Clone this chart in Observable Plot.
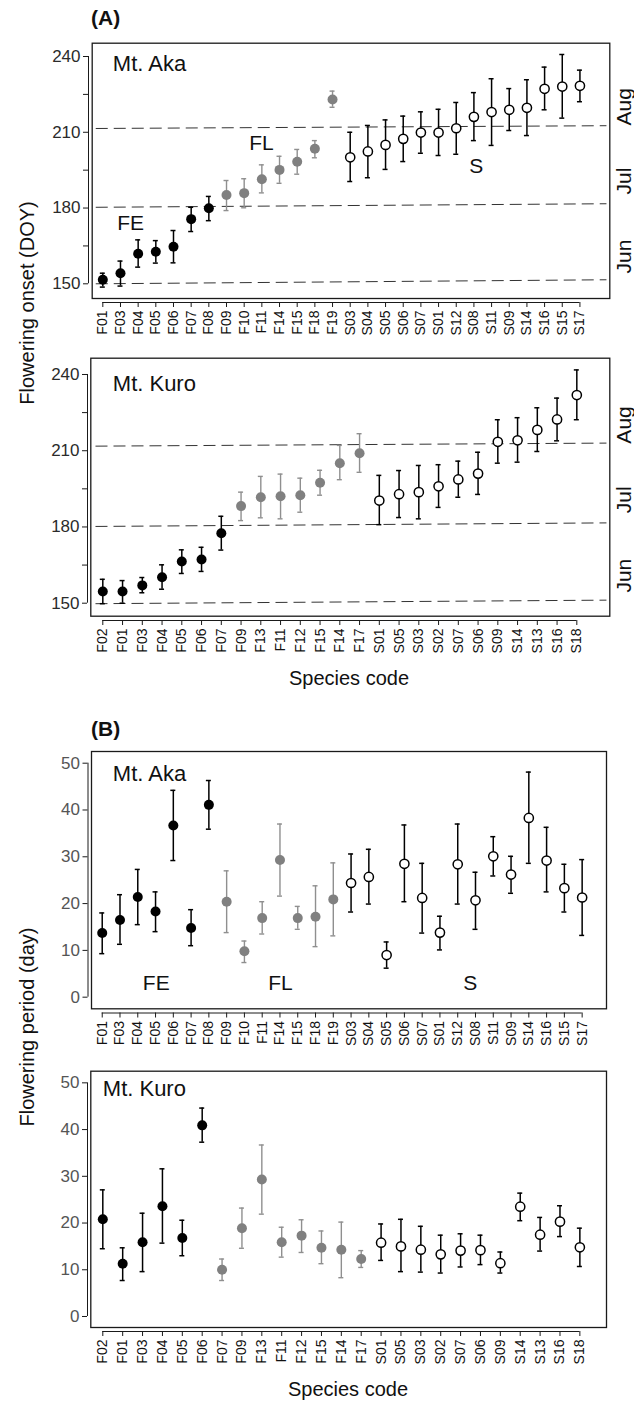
<!DOCTYPE html>
<html><head><meta charset="utf-8">
<script src="https://cdn.jsdelivr.net/npm/d3@7"></script>
<script src="https://cdn.jsdelivr.net/npm/@observablehq/plot@0.6"></script>
<style>
html,body{margin:0;padding:0;background:#fff;}
#root{position:relative;width:634px;height:1409px;background:#fff;font-family:"Liberation Sans",Arial,Helvetica,sans-serif;color:#111;overflow:hidden}
.plot{position:absolute;left:0;}
.lbl{position:absolute;white-space:nowrap;line-height:1;}
</style></head><body><div id="root"></div>
<script>
// ---------- DATA ----------
const codesAka = ["F01","F03","F04","F05","F06","F07","F08","F09","F10","F11","F14","F15","F18","F19","S03","S04","S05","S06","S07","S01","S12","S08","S11","S09","S14","S16","S15","S17"];
const groupAka = ["FE","FE","FE","FE","FE","FE","FE","FL","FL","FL","FL","FL","FL","FL","S","S","S","S","S","S","S","S","S","S","S","S","S","S"];
const codesKuro = ["F02","F01","F03","F04","F05","F06","F07","F09","F13","F11","F12","F15","F14","F17","S01","S05","S03","S02","S07","S06","S09","S14","S13","S16","S18"];
const groupKuroOnset = ["FE","FE","FE","FE","FE","FE","FE","FL","FL","FL","FL","FL","FL","FL","S","S","S","S","S","S","S","S","S","S","S"];
const groupKuroPeriod = ["FE","FE","FE","FE","FE","FE","FL","FL","FL","FL","FL","FL","FL","FL","S","S","S","S","S","S","S","S","S","S","S"];

// (A) flowering onset, DOY
const onsetAkaMean = [151.6,154.2,161.9,162.7,164.7,175.6,179.9,185.2,185.9,191.4,195.1,198.3,203.5,223.0,200.1,202.4,205.0,207.4,209.9,209.9,211.6,216.1,218.0,218.9,219.7,227.2,228.1,228.4];
const onsetAkaLo   = [148.7,149.1,156.6,158.2,158.3,170.7,175.0,179.0,180.1,186.0,189.8,193.4,199.9,219.9,190.5,192.0,195.3,198.4,201.7,200.8,201.3,206.7,204.8,210.7,208.7,218.9,215.6,222.1];
const onsetAkaHi   = [154.2,159.0,167.4,167.1,171.1,180.3,184.6,190.9,191.6,197.1,200.5,203.2,206.7,226.3,210.0,212.7,214.9,216.4,218.1,219.1,221.8,225.7,231.2,227.3,230.8,235.8,240.8,234.6];

const onsetKuroMean = [154.6,154.6,157.0,160.2,166.4,167.2,177.5,188.2,191.7,192.1,192.5,197.4,205.1,209.0,190.4,192.9,193.7,196.0,198.7,201.0,213.5,214.1,218.2,222.3,231.9];
const onsetKuroLo   = [149.8,150.0,154.1,155.5,161.7,162.5,170.9,182.5,183.6,183.2,185.8,192.5,198.6,201.5,180.9,183.7,183.2,187.7,191.7,192.8,205.1,205.5,209.7,213.9,222.2];
const onsetKuroHi   = [159.4,158.9,160.1,165.1,171.0,172.0,184.2,193.7,199.9,200.8,199.2,202.3,212.1,216.7,200.3,202.2,204.2,204.5,205.9,209.4,222.2,223.0,226.9,230.7,241.8];

// (B) flowering period, days
const periodAkaMean = [13.7,16.5,21.4,18.3,36.7,14.8,41.1,20.4,9.8,16.9,29.3,16.9,17.2,20.9,24.4,25.7,9.0,28.5,21.2,13.8,28.4,20.7,30.1,26.2,38.3,29.2,23.3,21.3];
const periodAkaLo   = [9.3,11.3,15.5,14.0,29.2,11.0,35.9,13.8,7.4,13.5,21.6,14.5,10.8,13.1,18.2,19.9,6.2,20.4,13.7,10.1,19.9,14.5,25.9,22.2,28.6,22.5,18.2,13.2];
const periodAkaHi   = [18.0,21.9,27.3,22.5,44.2,18.7,46.3,27.0,12.0,20.4,37.0,19.4,23.8,28.7,30.6,31.6,11.8,36.8,28.6,17.3,37.0,26.7,34.3,30.1,48.1,36.3,28.4,29.4];

const periodKuroMean = [20.8,11.3,15.9,23.6,16.8,40.9,10.0,18.9,29.3,15.9,17.3,14.7,14.3,12.3,15.8,15.0,14.3,13.3,14.1,14.2,11.4,23.5,17.5,20.3,14.8];
const periodKuroLo   = [14.5,7.7,9.6,15.7,13.0,37.3,7.7,14.6,21.9,12.7,13.7,11.3,8.3,10.5,12.0,9.6,9.5,9.3,10.6,11.1,9.3,20.5,14.0,17.1,10.7];
const periodKuroHi   = [27.1,14.7,22.1,31.6,20.6,44.6,12.3,23.2,36.7,19.1,20.7,18.3,20.2,14.1,19.8,20.8,19.3,17.4,17.7,17.4,13.8,26.4,21.2,23.7,18.9];

const onsetTicks = [150,165,180,195,210,225,240];
const periodTicks = [0,10,20,30,40,50];
const monthNames = ["Jun","Jul","Aug"];
const monthMidDOY = [167.5,196,227.5];
// month boundary dashed lines (slightly sloping in the original)
const dashAkaStart = [150.0,180.3,211.5], dashAkaEnd = [151.6,181.7,212.6];
const dashKuroStart = [149.8,180.2,211.8], dashKuroEnd = [151.2,181.6,213.0];
const groupLabelText = ["FE","FL","S"];
const groupLabelAkaOnsetX = [1.57,8.98,21.13], groupLabelAkaOnsetY = [174.1,205.7,196.5];
const groupLabelAkaPeriodX = [3.04,10.03,20.71], groupLabelAkaPeriodY = [3.0,3.0,3.0];

// ---------- DRAWING ----------
const FONT = '"Liberation Sans", Arial, Helvetica, sans-serif';
const STYLE = {
  FE: {fill:"#000000", stroke:"none", bar:"#000000", r:5},
  FL: {fill:"#808080", stroke:"none", bar:"#8f8f8f", r:5},
  S:  {fill:"#ffffff", stroke:"#000000", bar:"#000000", r:4.6}
};

function panel(cfg) {
  const n = cfg.codes.length;
  const idx = cfg.codes.map((_, i) => i);
  const rows = cfg.codes.map((code, i) => ({i, code, m: cfg.mean[i], lo: cfg.lo[i], hi: cfg.hi[i], g: cfg.group[i]}));
  const marks = [];
  marks.push(Plot.frame({stroke:"#1a1a1a", strokeWidth:1.3, insetLeft: cfg.frameInset[0], insetBottom: cfg.frameInset[1]}));
  if (cfg.dashStart) {
    const dashes = cfg.dashStart.map((y1, k) => ({y1, y2: cfg.dashEnd[k]}));
    marks.push(Plot.link(dashes, {x1: cfg.dashX[0], x2: cfg.dashX[1], y1: "y1", y2: "y2", stroke: "#333", strokeWidth: 1, strokeDasharray: "12,6"}));
  }
  for (const g of ["FE","FL","S"]) {
    const s = STYLE[g];
    const sub = rows.filter(d => d.g === g);
    const sw = g === "FL" ? 1.4 : 1.5;
    marks.push(Plot.ruleX(sub, {x:"i", y1:"lo", y2:"hi", stroke: s.bar, strokeWidth: sw}));
    marks.push(Plot.ruleY(sub, {y:"hi", x1:"i", x2:"i", insetLeft:-2.5, insetRight:-2.5, stroke: s.bar, strokeWidth: sw}));
    marks.push(Plot.ruleY(sub, {y:"lo", x1:"i", x2:"i", insetLeft:-2.5, insetRight:-2.5, stroke: s.bar, strokeWidth: sw}));
    marks.push(Plot.dot(sub, {x:"i", y:"m", r: s.r, fill: s.fill, stroke: s.stroke, strokeWidth: 1.5}));
  }
  // axes
  marks.push(Plot.axisX(idx, {tickFormat: i => cfg.codes[i], tickRotate: -90, tickSize: 5, tickPadding: 3, fontSize: 14, label: null, fill: "#111", stroke: "#1a1a1a"}));
  marks.push(Plot.axisY(cfg.yTicks, {tickSize: 5, tickPadding: 3, tickFormat: cfg.yFormat, fontSize: 17, label: null, fill: cfg.yTickColor, stroke: "#1a1a1a"}));
  marks.push(Plot.ruleY([cfg.yDomain[0]], {y: d => d, x1: 0, x2: n - 1, stroke: "#1a1a1a", strokeWidth: 1}));
  marks.push(Plot.ruleX([cfg.xDomain[0]], {x: d => d, y1: cfg.yTicks[0], y2: cfg.yTicks[cfg.yTicks.length - 1], stroke: "#1a1a1a", strokeWidth: 1}));
  // texts
  marks.push(Plot.text([cfg.site], {frameAnchor: "top-left", dx: cfg.siteD[0], dy: cfg.siteD[1], textAnchor: "start", lineAnchor: "bottom", fontSize: 22, fill: "#111"}));
  if (cfg.glX) {
    const gl = groupLabelText.map((t, k) => ({t, x: cfg.glX[k], y: cfg.glY[k]}));
    marks.push(Plot.text(gl, {x: "x", y: "y", text: "t", fontSize: 21, fill: "#111"}));
  }
  if (cfg.months) {
    const mr = monthNames.map((name, k) => ({name, v: monthMidDOY[k]}));
    marks.push(Plot.text(mr, {y: "v", text: "name", frameAnchor: "right", dx: 14, rotate: -90, fontSize: 21, fill: "#111"}));
  }
  const svg = Plot.plot({
    width: 634, height: cfg.height,
    marginLeft: cfg.margin[0], marginRight: cfg.margin[1], marginTop: cfg.margin[2], marginBottom: cfg.margin[3],
    x: {domain: cfg.xDomain},
    y: {domain: cfg.yDomain},
    style: {fontFamily: FONT, background: "transparent", overflow: "visible", color: "#111"},
    marks
  });
  svg.classList.add("plot");
  svg.style.top = cfg.top + "px";
  svg.style.position = "absolute";
  return svg;
}

const root = document.getElementById("root");
const onsetFmt = d => (d % 30 === 0 ? String(d) : "");

root.appendChild(panel({
  top: 0, height: 345, margin: [88, 24.7, 42.7, 43],
  codes: codesAka, group: groupAka, mean: onsetAkaMean, lo: onsetAkaLo, hi: onsetAkaHi,
  xDomain: [-0.81, 28.69], yDomain: [142.6, 245.27], yTicks: onsetTicks, yFormat: onsetFmt, yTickColor: "#2b2b2b",
  frameInset: [3.7, 4], dashStart: dashAkaStart, dashEnd: dashAkaEnd, dashX: [-0.4, 28.5],
  site: "Mt. Aka", siteD: [24.3, 27.3], glX: groupLabelAkaOnsetX, glY: groupLabelAkaOnsetY, months: true
}));
root.appendChild(panel({
  top: 345, height: 320, margin: [87, 24.7, 12.7, 45],
  codes: codesKuro, group: groupKuroOnset, mean: onsetKuroMean, lo: onsetKuroLo, hi: onsetKuroHi,
  xDomain: [-0.775, 25.67], yDomain: [143.19, 246.41], yTicks: onsetTicks, yFormat: onsetFmt, yTickColor: "#2b2b2b",
  frameInset: [3.3, 4.3], dashStart: dashKuroStart, dashEnd: dashKuroEnd, dashX: [-0.37, 25.5],
  site: "Mt. Kuro", siteD: [25.3, 32.3], months: true
}));
root.appendChild(panel({
  top: 700, height: 355, margin: [87.5, 28, 51, 42.5],
  codes: codesAka, group: groupAka, mean: periodAkaMean, lo: periodAkaLo, hi: periodAkaHi,
  xDomain: [-0.80, 28.37], yDomain: [-3.38, 52.5], yTicks: periodTicks, yFormat: d => String(d), yTickColor: "#555",
  frameInset: [3.5, 4.2],
  site: "Mt. Aka", siteD: [24.8, 29.7], glX: groupLabelAkaPeriodX, glY: groupLabelAkaPeriodY
}));
root.appendChild(panel({
  top: 1055, height: 320, margin: [87, 28, 15.7, 44],
  codes: codesKuro, group: groupKuroPeriod, mean: periodKuroMean, lo: periodKuroLo, hi: periodKuroHi,
  xDomain: [-0.77, 25.34], yDomain: [-3.21, 52.49], yTicks: periodTicks, yFormat: d => String(d), yTickColor: "#555",
  frameInset: [3.3, 4],
  site: "Mt. Kuro", siteD: [15.3, 25]
}));

// titles / axis titles
function label(text, css) {
  const d = document.createElement("div");
  d.className = "lbl";
  d.textContent = text;
  Object.assign(d.style, css);
  root.appendChild(d);
}
label("(A)", {left: "91px", top: "7px", fontSize: "21px", fontWeight: "bold"});
label("(B)", {left: "91px", top: "718px", fontSize: "21px", fontWeight: "bold"});
label("Flowering onset (DOY)", {left: "27px", top: "303px", fontSize: "20px", transform: "translate(-50%,-50%) rotate(-90deg)"});
label("Flowering period (day)", {left: "27px", top: "1027px", fontSize: "20px", transform: "translate(-50%,-50%) rotate(-90deg)"});
label("Species code", {left: "349px", top: "678px", fontSize: "20px", transform: "translate(-50%,-50%)"});
label("Species code", {left: "348px", top: "1389px", fontSize: "20px", transform: "translate(-50%,-50%)"});
</script></body></html>
